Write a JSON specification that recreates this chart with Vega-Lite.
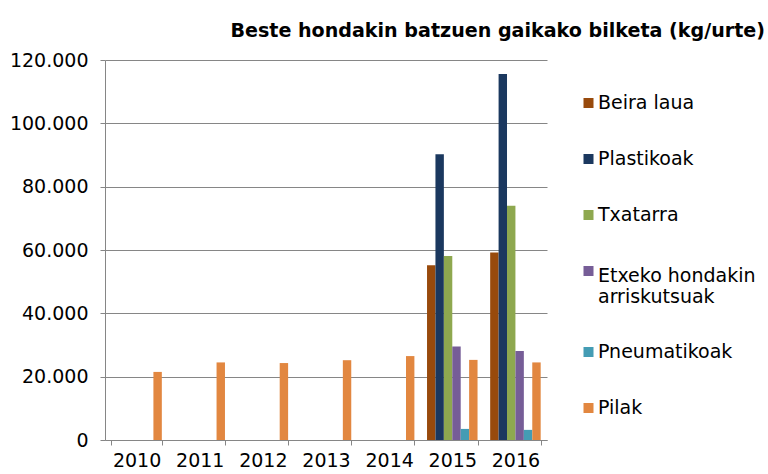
{
  "$schema": "https://vega.github.io/schema/vega-lite/v6.json",
  "autosize": {"type": "none"},
  "width": 442,
  "height": 380,
  "padding": {"left": 105, "top": 60, "right": 221, "bottom": 34},
  "background": "white",
  "title": {
    "text": "Beste hondakin batzuen gaikako bilketa (kg/urte)",
    "anchor": "end",
    "frame": "group",
    "dx": 218,
    "offset": 10,
    "font": "DejaVu Sans",
    "fontSize": 19.1,
    "fontWeight": "bold",
    "color": "#000000"
  },
  "data": {
    "values": [
      {"year": "2010", "series": "Pilak", "value": 21500},
      {"year": "2011", "series": "Pilak", "value": 24500},
      {"year": "2012", "series": "Pilak", "value": 24300},
      {"year": "2013", "series": "Pilak", "value": 25200},
      {"year": "2014", "series": "Pilak", "value": 26500},
      {"year": "2015", "series": "Beira laua", "value": 55200},
      {"year": "2015", "series": "Plastikoak", "value": 90200},
      {"year": "2015", "series": "Txatarra", "value": 58100},
      {"year": "2015", "series": "Etxeko hondakin arriskutsuak", "value": 29500},
      {"year": "2015", "series": "Pneumatikoak", "value": 3500},
      {"year": "2015", "series": "Pilak", "value": 25300},
      {"year": "2016", "series": "Beira laua", "value": 59200},
      {"year": "2016", "series": "Plastikoak", "value": 115600},
      {"year": "2016", "series": "Txatarra", "value": 74000},
      {"year": "2016", "series": "Etxeko hondakin arriskutsuak", "value": 28100},
      {"year": "2016", "series": "Pneumatikoak", "value": 3200},
      {"year": "2016", "series": "Pilak", "value": 24500}
    ]
  },
  "mark": {"type": "bar"},
  "encoding": {
    "x": {
      "field": "year",
      "type": "nominal",
      "sort": ["2010", "2011", "2012", "2013", "2014", "2015", "2016"],
      "scale": {"domain": ["2010", "2011", "2012", "2013", "2014", "2015", "2016"], "paddingInner": 0.2, "paddingOuter": 0.1},
      "axis": {
        "title": null,
        "labelAngle": 0,
        "tickBand": "extent",
        "tickSize": 5,
        "tickColor": "#868686",
        "domainColor": "#868686",
        "labelFont": "DejaVu Sans",
        "labelFontSize": 19,
        "labelColor": "#000000",
        "labelPadding": 6,
        "grid": false
      }
    },
    "xOffset": {
      "field": "series",
      "type": "nominal",
      "scale": {"domain": ["Beira laua", "Plastikoak", "Txatarra", "Etxeko hondakin arriskutsuak", "Pneumatikoak", "Pilak"], "paddingInner": 0, "paddingOuter": 0}
    },
    "y": {
      "field": "value",
      "type": "quantitative",
      "scale": {"domain": [0, 120000], "nice": false},
      "axis": {
        "title": null,
        "values": [0, 20000, 40000, 60000, 80000, 100000, 120000],
        "labelExpr": "replace(format(datum.value, ','), ',', '.')",
        "tickSize": 5,
        "tickColor": "#868686",
        "domainColor": "#868686",
        "gridColor": "#868686",
        "grid": true,
        "labelFont": "DejaVu Sans",
        "labelFontSize": 19,
        "labelColor": "#000000",
        "labelPadding": 12
      }
    },
    "color": {
      "field": "series",
      "type": "nominal",
      "scale": {
        "domain": ["Beira laua", "Plastikoak", "Txatarra", "Etxeko hondakin arriskutsuak", "Pneumatikoak", "Pilak"],
        "range": ["#984A0C", "#1B385F", "#8EA84F", "#765D97", "#449CB4", "#E28740"]
      },
      "legend": {
        "title": null,
        "orient": "none",
        "legendX": 474,
        "legendY": 32,
        "symbolType": "square",
        "symbolSize": 100,
        "symbolStrokeWidth": 0,
        "labelFont": "DejaVu Sans",
        "labelFontSize": 19,
        "labelColor": "#000000",
        "labelLimit": 300,
        "rowPadding": 34,
        "clipHeight": 22,
        "labelOffset": 0,
        "labelExpr": "datum.label == 'Etxeko hondakin arriskutsuak' ? ['Etxeko hondakin', 'arriskutsuak'] : datum.label",
        "encode": {
          "labels": {
            "update": {
              "dy": {"signal": "datum.value == 'Etxeko hondakin arriskutsuak' ? 5 : 0"}
            }
          }
        }
      }
    }
  },
  "config": {
    "view": {"stroke": null},
    "axis": {"gridOpacity": 1, "domainOpacity": 1}
  }
}
